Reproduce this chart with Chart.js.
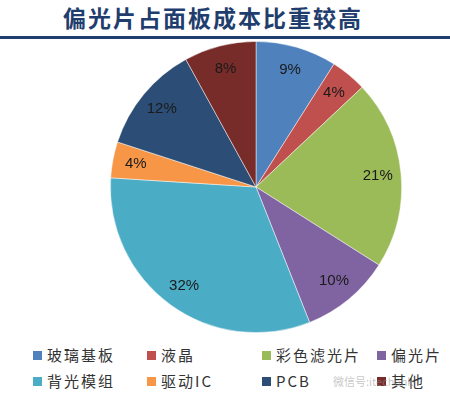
<!DOCTYPE html>
<html><head><meta charset="utf-8">
<script src="https://cdn.jsdelivr.net/npm/chart.js@4"></script>
<style>
html,body{margin:0;padding:0;background:#fff;width:450px;height:398px;overflow:hidden;position:relative;font-family:"Noto Sans CJK SC",sans-serif;}
#title{position:absolute;left:0;top:2px;width:426px;text-align:center;font-size:23px;font-weight:bold;letter-spacing:2px;color:#1F3E6E;line-height:30px;}
#rule{position:absolute;left:0;top:36px;width:450px;height:3px;background:#1F3E6E;}
#wrap{position:absolute;left:110px;top:41px;width:292px;height:292px;}
.lg{position:absolute;font-size:15px;color:#333;line-height:18px;white-space:nowrap;letter-spacing:2px;}
.lg i{display:inline-block;width:9px;height:9px;margin-right:5px;vertical-align:1px;}
#wm{position:absolute;left:333px;top:373px;font-size:11px;color:rgba(150,150,150,0.55);}
</style></head>
<body>
<div id="title">偏光片占面板成本比重较高</div>
<div id="rule"></div>
<div id="wrap"><canvas id="c" width="292" height="292"></canvas></div>
<div id="legend"></div>
<div id="wm">微信号:itechank</div>
<script>
const categories = ["玻璃基板","液晶","彩色滤光片","偏光片","背光模组","驱动IC","PCB","其他"];
const values = [9,4,21,10,32,4,12,8];
const colors = ["#4F81BD","#C0504D","#9BBB59","#8064A2","#4BACC6","#F79646","#2C4D75","#772C2A"];
const legendCols = [33,147,262,377];
const legendRows = [346,372];

const labelPlugin = {
  id:'pctLabels',
  afterDatasetsDraw(chart){
    const ctx = chart.ctx;
    const meta = chart.getDatasetMeta(0);
    ctx.save();
    ctx.font = '15px "Liberation Sans", Arial, sans-serif';
    ctx.fillStyle = '#1a1a1a';
    ctx.textAlign = 'center';
    ctx.textBaseline = 'middle';
    meta.data.forEach((arc,i)=>{
      const p = arc.getProps(['x','y','startAngle','endAngle','outerRadius'],true);
      const a = (p.startAngle+p.endAngle)/2;
      const r = p.outerRadius*0.84;
      ctx.fillText(values[i]+'%', p.x+Math.cos(a)*r, p.y+Math.sin(a)*r);
    });
    ctx.restore();
  }
};

const chart = new Chart(document.getElementById('c'),{
  type:'pie',
  data:{labels:categories,datasets:[{data:values,backgroundColor:colors,borderColor:'rgba(255,255,255,0.6)',borderWidth:0.8,hoverOffset:0}]},
  options:{responsive:false,animation:false,layout:{padding:0},
    plugins:{legend:{display:false},tooltip:{enabled:false}}},
  plugins:[labelPlugin]
});

const lg = document.getElementById('legend');
categories.forEach((c,i)=>{
  const d = document.createElement('div');
  d.className='lg';
  d.style.left = legendCols[i%4]+'px';
  d.style.top = legendRows[Math.floor(i/4)]+'px';
  d.innerHTML = '<i style="background:'+colors[i]+'"></i>'+c;
  lg.appendChild(d);
});
</script>
</body></html>
